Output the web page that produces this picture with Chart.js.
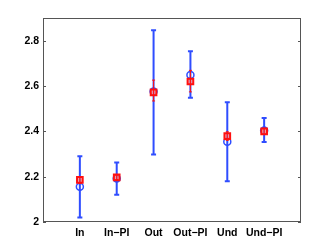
<!DOCTYPE html>
<html>
<head>
<meta charset="utf-8">
<script src="https://cdn.jsdelivr.net/npm/chart.js@4/dist/chart.umd.min.js"></script>
<style>
  body { margin: 0; background: #fff; }
</style>
</head>
<body>
<canvas id="chart" width="332" height="250"></canvas>
<script>
// Categories and values
const categories = ['In', 'In\u2212PI', 'Out', 'Out\u2212PI', 'Und', 'Und\u2212PI'];
const blueMean = [2.155, 2.192, 2.576, 2.649, 2.354, 2.404];
const blueLow = [2.02, 2.12, 2.298, 2.548, 2.18, 2.353];
const blueHigh = [2.29, 2.263, 2.846, 2.753, 2.528, 2.459];
const redMean = [2.186, 2.197, 2.572, 2.62, 2.379, 2.40];
const redLow = [2.17, 2.187, 2.534, 2.574, 2.36, 2.386];
const redHigh = [2.2, 2.207, 2.626, 2.669, 2.398, 2.414];
const yTicks = [2, 2.2, 2.4, 2.6, 2.8];

const BLUE = '#2f4dff';
const RED = '#ff1010';
const AXIS = '#555555';

// Error bars, inward tick marks and the box round the plot
const errorBars = {
  id: 'errorBars',
  beforeDatasetsDraw(chart) {
    const ctx = chart.ctx;
    const x = chart.scales.x, y = chart.scales.y;
    ctx.save();
    ctx.strokeStyle = BLUE;
    ctx.lineWidth = 2;
    categories.forEach((c, i) => {
      const px = x.getPixelForValue(i + 1);
      const top = y.getPixelForValue(blueHigh[i]);
      const bot = y.getPixelForValue(blueLow[i]);
      ctx.beginPath();
      ctx.moveTo(px, top); ctx.lineTo(px, bot);
      ctx.moveTo(px - 2.5, top); ctx.lineTo(px + 2.5, top);
      ctx.moveTo(px - 2.5, bot); ctx.lineTo(px + 2.5, bot);
      ctx.stroke();
    });
    ctx.restore();
  },
  afterDatasetsDraw(chart) {
    const ctx = chart.ctx;
    const x = chart.scales.x, y = chart.scales.y;
    const a = chart.chartArea;
    ctx.save();
    ctx.strokeStyle = RED;
    ctx.lineWidth = 1;
    categories.forEach((c, i) => {
      const px = x.getPixelForValue(i + 1);
      const top = y.getPixelForValue(redHigh[i]);
      const bot = y.getPixelForValue(redLow[i]);
      ctx.beginPath();
      ctx.moveTo(px, top); ctx.lineTo(px, bot);
      ctx.moveTo(px - 1.5, top); ctx.lineTo(px + 1.5, top);
      ctx.moveTo(px - 1.5, bot); ctx.lineTo(px + 1.5, bot);
      ctx.stroke();
    });
    // box
    ctx.strokeStyle = AXIS;
    ctx.lineWidth = 1;
    ctx.strokeRect(a.left + 0.5, a.top + 0.5, a.right - a.left - 1, a.bottom - a.top - 1);
    ctx.beginPath();
    yTicks.forEach(v => {
      const py = Math.round(y.getPixelForValue(v)) + 0.5;
      ctx.moveTo(a.left, py); ctx.lineTo(a.left + 3, py);
      ctx.moveTo(a.right, py); ctx.lineTo(a.right - 3, py);
    });
    ctx.stroke();
    ctx.restore();
  }
};

new Chart(document.getElementById('chart'), {
  type: 'scatter',
  data: {
    datasets: [
      {
        data: blueMean.map((v, i) => ({ x: i + 1, y: v })),
        pointStyle: 'circle',
        radius: 3.5,
        borderWidth: 1.5,
        borderColor: BLUE,
        backgroundColor: 'rgba(0,0,0,0)',
        order: 2
      },
      {
        data: redMean.map((v, i) => ({ x: i + 1, y: v })),
        pointStyle: 'rect',
        radius: 4,
        borderWidth: 2,
        borderColor: RED,
        backgroundColor: 'rgba(255,120,120,0.6)',
        order: 1
      }
    ]
  },
  options: {
    responsive: false,
    animation: false,
    layout: { padding: { top: 18, right: 31, left: 0, bottom: 0 } },
    plugins: { legend: { display: false }, tooltip: { enabled: false } },
    scales: {
      x: {
        type: 'linear',
        min: 0,
        max: 7,
        afterBuildTicks: s => { s.ticks = [1, 2, 3, 4, 5, 6].map(v => ({ value: v })); },
        afterFit: s => { s.height = 28; },
        grid: { display: false, drawTicks: false },
        border: { display: false },
        ticks: {
          padding: 5,
          color: '#000',
          maxRotation: 0,
          autoSkip: false,
          font: { family: 'Liberation Sans', size: 10.5, weight: 'bold' },
          callback: (v, i) => categories[i]
        }
      },
      y: {
        min: 2,
        max: 2.9,
        afterBuildTicks: s => { s.ticks = yTicks.map(v => ({ value: v })); },
        afterFit: s => { s.width = 43; },
        grid: { display: false, drawTicks: false },
        border: { display: false },
        ticks: {
          padding: 4,
          color: '#000',
          font: { family: 'Liberation Sans', size: 10.5, weight: 'bold' },
          callback: v => String(Math.round(v * 10) / 10)
        }
      }
    }
  },
  plugins: [errorBars]
});
</script>
</body>
</html>
